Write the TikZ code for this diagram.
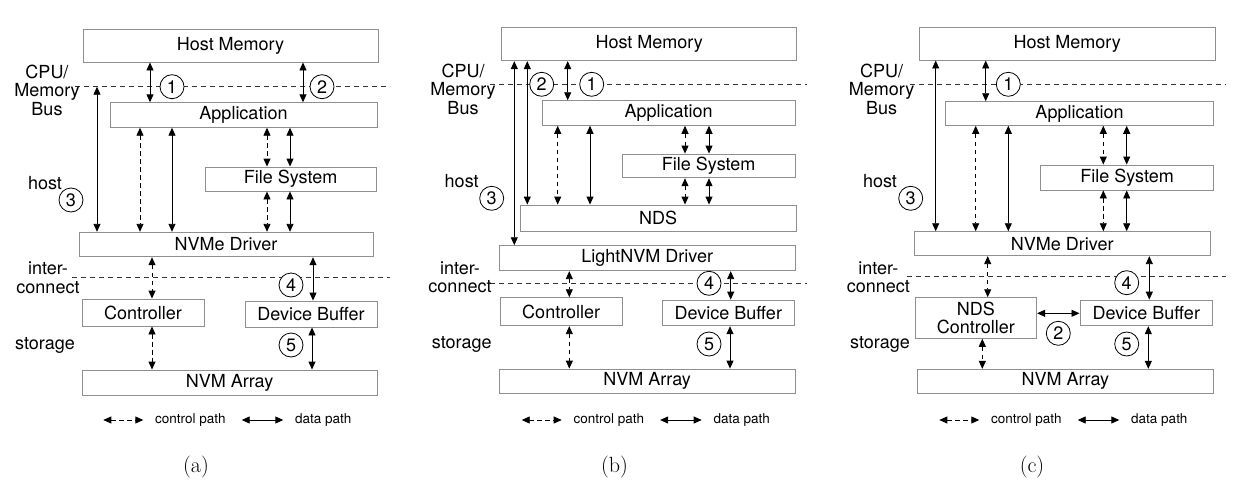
\documentclass[tikz,border=0pt]{standalone}
\usepackage{fontspec}
\setsansfont{TeX Gyre Heros}
\usetikzlibrary{arrows.meta}
\definecolor{boxgray}{HTML}{8F8F8F}
\definecolor{sepgray}{HTML}{333333}
\newcommand{\labfont}{\sffamily\fontsize{18}{18.5}\selectfont}
\newcommand{\legfont}{\sffamily\fontsize{13.5}{15}\selectfont}
\newcommand{\capfont}{\rmfamily\fontsize{22}{24}\selectfont}
\tikzset{
 box/.style={draw=boxgray, line width=0.9pt, inner sep=0pt, font=\labfont, fill=white, align=center},
 data/.style={line width=0.9pt, {Triangle[length=8pt,width=7pt]}-{Triangle[length=8pt,width=7pt]}},
 ctrl/.style={data, dash pattern=on 4.5pt off 3.5pt},
 num/.style={circle, draw, line width=0.8pt, fill=white, minimum size=24pt, inner sep=0pt, font=\labfont},
 lbl/.style={font=\labfont, align=center, inner sep=0pt},
 leg/.style={font=\legfont, inner sep=0pt, anchor=west},
 sep/.style={line width=0.8pt, dash pattern=on 5pt off 4pt, draw=sepgray},
}
\begin{document}
\begin{tikzpicture}[x=1pt,y=-1pt]
\useasboundingbox (0,0) rectangle (1236,487);

% ================= (a) =================
\coordinate (busAl) at (75,86.7);  \coordinate (busAr) at (390,86.7);
\coordinate (icAl) at (72,277.3);  \coordinate (icAr) at (390,277.3);
\draw[sep] (busAl) -- (busAr);
\draw[sep] (icAl) -- (icAr);
\node[box, minimum width=295pt, minimum height=33pt] (hmA) at (230.5,45.5) {Host Memory};
\node[box, minimum width=267pt, minimum height=24.5pt] (appA) at (243.5,115) {Application};
\node[box, minimum width=171pt, minimum height=24pt] (fsA) at (290.5,179) {File System};
\node[box, minimum width=294pt, minimum height=24.5pt] (nvmeA) at (226,244.5) {NVMe Driver};
\node[box, minimum width=122pt, minimum height=27pt] (ctrlA) at (143,312.5) {Controller};
\node[box, minimum width=132pt, minimum height=26pt] (dbA) at (311,314) {Device Buffer};
\node[box, minimum width=295pt, minimum height=25pt] (nvmA) at (229.5,382.5) {NVM Array};
\node[lbl] (busLA) at (47,90) {CPU/\\Memory\\Bus};
\node[lbl] (hostLA) at (45,183) {host};
\node[lbl] (icLA) at (48,278) {inter-\\connect};
\node[lbl] (stLA) at (45,345) {storage};
\coordinate (busA3) at (97,86.7);
\draw[data] (150,0 |- hmA.south) -- (150,0 |- appA.north);
\draw[data] (303,0 |- hmA.south) -- (303,0 |- appA.north);
\draw[data] (busA3) -- (97,0 |- nvmeA.north);
\draw[ctrl] (140,0 |- appA.south) -- (140,0 |- nvmeA.north);
\draw[data] (172,0 |- appA.south) -- (172,0 |- nvmeA.north);
\draw[ctrl] (267,0 |- appA.south) -- (267,0 |- fsA.north);
\draw[data] (290,0 |- appA.south) -- (290,0 |- fsA.north);
\draw[ctrl] (267,0 |- fsA.south) -- (267,0 |- nvmeA.north);
\draw[data] (290,0 |- fsA.south) -- (290,0 |- nvmeA.north);
\draw[ctrl] (152,0 |- nvmeA.south) -- (152,0 |- ctrlA.north);
\draw[data] (313,0 |- nvmeA.south) -- (313,0 |- dbA.north);
\draw[ctrl] (152,0 |- ctrlA.south) -- (152,0 |- nvmA.north);
\draw[data] (312,0 |- dbA.south) -- (312,0 |- nvmA.north);
\node[num] (c1A) at (172,86.7) {1};
\node[num] (c2A) at (322,86.7) {2};
\node[num] (c3A) at (71,200) {3};
\node[num] (c4A) at (291,285) {4};
\node[num] (c5A) at (291,345) {5};

% ================= (b) =================
\coordinate (busBl) at (490,84.3);  \coordinate (busBr) at (806.7,84.3);
\coordinate (icBl) at (490,283.3);  \coordinate (icBr) at (806.7,283.3);
\draw[sep] (busBl) -- (busBr);
\draw[sep] (icBl) -- (icBr);
\node[box, minimum width=295pt, minimum height=33.4pt] (hmB) at (649.2,44) {Host Memory};
\node[box, minimum width=252.7pt, minimum height=24.6pt] (appB) at (668.7,113) {Application};
\node[box, minimum width=172.7pt, minimum height=23.7pt] (fsB) at (708.7,165.9) {File System};
\node[box, minimum width=276pt, minimum height=26pt] (ndsB) at (658,218) {NDS};
\node[box, minimum width=295.7pt, minimum height=25pt] (lnvmB) at (647.2,258.2) {LightNVM Driver};
\node[box, minimum width=122.3pt, minimum height=28pt] (ctrlB) at (561.2,311.7) {Controller};
\node[box, minimum width=132pt, minimum height=25.7pt] (dbB) at (728.3,312.9) {Device Buffer};
\node[box, minimum width=295.7pt, minimum height=24.3pt] (nvmB) at (647.2,381.2) {NVM Array};
\node[lbl] (busLB) at (463,89) {CPU/\\Memory\\Bus};
\node[lbl] (hostLB) at (461.7,181) {host};
\node[lbl] (icLB) at (460,277.5) {inter-\\connect};
\node[lbl] (stLB) at (461.7,344) {storage};
\draw[data] (514.3,0 |- hmB.south) -- (514.3,0 |- lnvmB.north);
\draw[data] (527.3,0 |- hmB.south) -- (527.3,0 |- ndsB.north);
\draw[data] (567.7,0 |- hmB.south) -- (567.7,0 |- appB.north);
\draw[ctrl] (557.7,0 |- appB.south) -- (557.7,0 |- ndsB.north);
\draw[data] (590,0 |- appB.south) -- (590,0 |- ndsB.north);
\draw[ctrl] (685,0 |- appB.south) -- (685,0 |- fsB.north);
\draw[data] (709,0 |- appB.south) -- (709,0 |- fsB.north);
\draw[ctrl] (685,0 |- fsB.south) -- (685,0 |- ndsB.north);
\draw[data] (709,0 |- fsB.south) -- (709,0 |- ndsB.north);
\draw[ctrl] (569.3,0 |- lnvmB.south) -- (569.3,0 |- ctrlB.north);
\draw[data] (730.7,0 |- lnvmB.south) -- (730.7,0 |- dbB.north);
\draw[ctrl] (569.3,0 |- ctrlB.south) -- (569.3,0 |- nvmB.north);
\draw[data] (730,0 |- dbB.south) -- (730,0 |- nvmB.north);
\node[num] (c2B) at (541.7,84.3) {2};
\node[num] (c1B) at (591.7,84.3) {1};
\node[num] (c3B) at (491.7,198.3) {3};
\node[num] (c4B) at (709,283.3) {4};
\node[num] (c5B) at (709,344) {5};

% ================= (c) =================
\coordinate (busCl) at (910,84.3);  \coordinate (busCr) at (1226,84.3);
\coordinate (icCl) at (906.7,276);  \coordinate (icCr) at (1226,276);
\draw[sep] (busCl) -- (busCr);
\draw[sep] (icCl) -- (icCr);
\node[box, minimum width=295.7pt, minimum height=32.7pt] (hmC) at (1067.2,43.7) {Host Memory};
\node[box, minimum width=267.6pt, minimum height=23.6pt] (appC) at (1079.5,113.5) {Application};
\node[box, minimum width=172.6pt, minimum height=25pt] (fsC) at (1127,177.5) {File System};
\node[box, minimum width=295.7pt, minimum height=24pt] (nvmeC) at (1062.2,243.7) {NVMe Driver};
\node[box, minimum width=121.7pt, minimum height=40.6pt] (ndsC) at (975.8,318) {NDS\\Controller};
\node[box, minimum width=132.7pt, minimum height=25.7pt] (dbC) at (1146.3,312.9) {Device Buffer};
\node[box, minimum width=296pt, minimum height=24pt] (nvmC) at (1065.3,381.3) {NVM Array};
\node[lbl] (busLC) at (881.7,89) {CPU/\\Memory\\Bus};
\node[lbl] (hostLC) at (880,181) {host};
\node[lbl] (icLC) at (878.3,277.5) {inter-\\connect};
\node[lbl] (stLC) at (880,344) {storage};
\draw[data] (935.7,0 |- hmC.south) -- (935.7,0 |- nvmeC.north);
\draw[data] (985.7,0 |- hmC.south) -- (985.7,0 |- appC.north);
\draw[ctrl] (975.7,0 |- appC.south) -- (975.7,0 |- nvmeC.north);
\draw[data] (1008.3,0 |- appC.south) -- (1008.3,0 |- nvmeC.north);
\draw[ctrl] (1103.3,0 |- appC.south) -- (1103.3,0 |- fsC.north);
\draw[data] (1126.7,0 |- appC.south) -- (1126.7,0 |- fsC.north);
\draw[ctrl] (1103.3,0 |- fsC.south) -- (1103.3,0 |- nvmeC.north);
\draw[data] (1126.7,0 |- fsC.south) -- (1126.7,0 |- nvmeC.north);
\draw[ctrl] (987.7,0 |- nvmeC.south) -- (987.7,0 |- ndsC.north);
\draw[data] (1149.3,0 |- nvmeC.south) -- (1149.3,0 |- dbC.north);
\draw[data] (ndsC.east |- 0,313.3) -- (dbC.west |- 0,313.3);
\draw[ctrl] (982.3,0 |- ndsC.south) -- (982.3,0 |- nvmC.north);
\draw[data] (1148.3,0 |- dbC.south) -- (1148.3,0 |- nvmC.north);
\node[num] (c1C) at (1008.3,84.3) {1};
\node[num] (c3C) at (910.7,198.3) {3};
\node[num] (c4C) at (1126.7,282.7) {4};
\node[num] (c2C) at (1058.3,333.3) {2};
\node[num] (c5C) at (1126.7,344) {5};

% ================= legends =================
\foreach \dx/\s in {0/A,418.4/B,836/C}{
  \coordinate (lc1\s) at (103.3+\dx,420);
  \coordinate (lc2\s) at (143.3+\dx,420);
  \coordinate (ld1\s) at (241.7+\dx,420);
  \coordinate (ld2\s) at (283.3+\dx,420);
  \draw[ctrl] (lc1\s) -- (lc2\s);
  \node[leg] (lct\s) at (155+\dx,420) {control path};
  \draw[data] (ld1\s) -- (ld2\s);
  \node[leg] (ldt\s) at (295+\dx,420) {data path};
}
\node[font=\capfont, inner sep=0pt] (capA) at (196,467) {(a)};
\node[font=\capfont, inner sep=0pt] (capB) at (614.5,467) {(b)};
\node[font=\capfont, inner sep=0pt] (capC) at (1032,467) {(c)};
\end{tikzpicture}
\end{document}
